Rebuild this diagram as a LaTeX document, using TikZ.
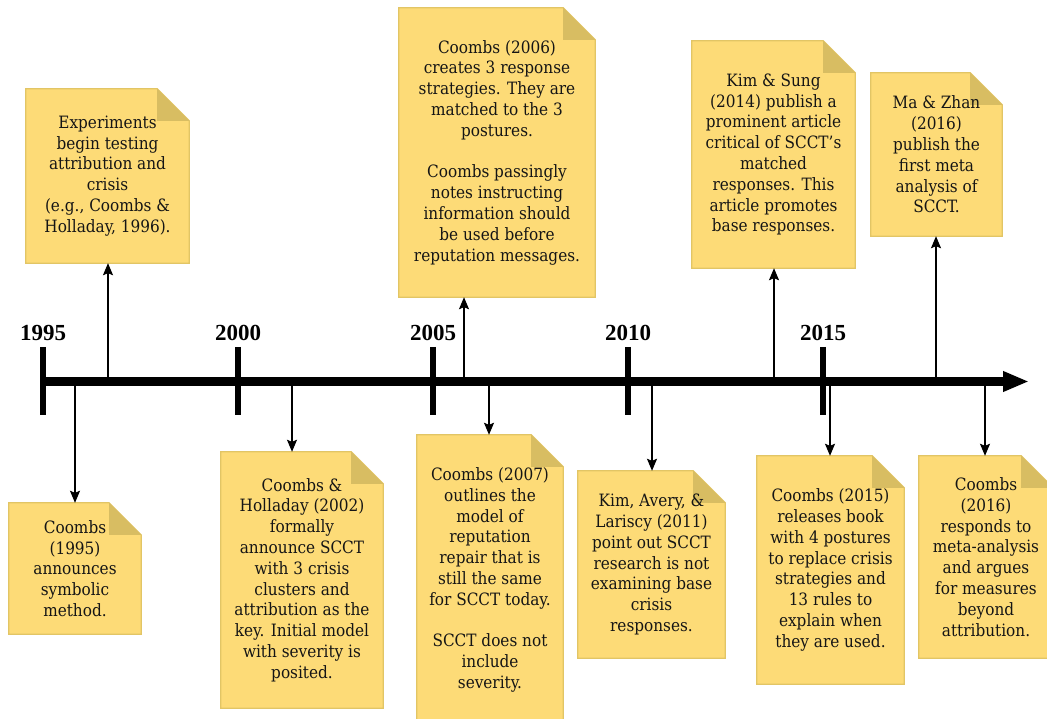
\documentclass[tikz,border=0pt]{standalone}
\usepackage{fontspec}
\setmainfont{DejaVu Serif Condensed}
\newfontfamily\yearfont{Liberation Serif}
\usetikzlibrary{arrows.meta,backgrounds}

\definecolor{notefill}{HTML}{FDDB77}
\definecolor{noteedge}{HTML}{E2C565}
\definecolor{notefold}{HTML}{D8BD62}
\definecolor{notetext}{HTML}{151515}

\tikzset{
  note/.style={rectangle, inner sep=0pt, align=center, text=notetext,
    font=\fontsize{17}{20.8}\selectfont},
  year/.style={anchor=base, font=\yearfont\bfseries\fontsize{23}{26}\selectfont},
  axisline/.style={line width=9.5pt, -{Triangle[length=26pt,width=19pt]}},
  tick/.style={line width=5.5pt},
  link/.style={line width=1.4pt, -{Stealth[length=12pt,width=10pt,inset=2pt]}},
}
\newcommand{\foldsize}{32pt}

\begin{document}
\begin{tikzpicture}[x=1pt,y=-1pt]
\useasboundingbox (0,0) rectangle (1047,719);
\clip (0,0) rectangle (1047,719);

% timeline axis and year ticks
\coordinate (start) at (43,381.5);
\coordinate (end) at (1029,381.5);
\foreach \i/\yr in {0/1995,1/2000,2/2005,3/2010,4/2015}{
  \coordinate (t\yr) at (43+195*\i,381.5);
  \draw[tick] (43+195*\i,347) -- (43+195*\i,415);
  \node[year] (y\yr) at (43+195*\i,341) {\yr};
}

% notes
\node[note, minimum width=163pt, minimum height=174pt] (n1) at (107.5,176)
  {Experiments\\begin testing\\attribution and\\crisis\\(e.g., Coombs \&\\Holladay, 1996).};
\node[note, minimum width=132pt, minimum height=131pt] (n2) at (75,568.5)
  {Coombs\\(1995)\\announces\\symbolic\\method.};
\node[note, minimum width=162pt, minimum height=256pt] (n3) at (302,580)
  {Coombs \&\\Holladay (2002)\\formally\\announce SCCT\\with 3 crisis\\clusters and\\attribution as the\\key. Initial model\\with severity is\\posited.};
\node[note, minimum width=196pt, minimum height=289pt] (n4) at (497,152.5)
  {Coombs (2006)\\creates 3 response\\strategies. They are\\matched to the 3\\postures.\\[20.8pt]Coombs passingly\\notes instructing\\information should\\be used before\\reputation messages.};
\node[note, minimum width=146pt, minimum height=290pt] (n5) at (490,580)
  {Coombs (2007)\\outlines the\\model of\\reputation\\repair that is\\still the same\\for SCCT today.\\[20.8pt]SCCT does not\\include\\severity.};
\node[note, minimum width=147pt, minimum height=187pt] (n6) at (651.5,564.5)
  {Kim, Avery, \&\\Lariscy (2011)\\point out SCCT\\research is not\\examining base\\crisis\\responses.};
\node[note, minimum width=163pt, minimum height=227pt] (n7) at (773.5,154.5)
  {Kim \& Sung\\(2014) publish a\\prominent article\\critical of SCCT's\\matched\\responses. This\\article promotes\\base responses.};
\node[note, minimum width=147pt, minimum height=228pt] (n8) at (830.5,570)
  {Coombs (2015)\\releases book\\with 4 postures\\to replace crisis\\strategies and\\13 rules to\\explain when\\they are used.};
\node[note, minimum width=131pt, minimum height=163pt] (n9) at (936.5,154.5)
  {Ma \& Zhan\\(2016)\\publish the\\first meta\\analysis of\\SCCT.};
\node[note, minimum width=134pt, minimum height=202pt] (n10) at (986,557)
  {Coombs\\(2016)\\responds to\\meta-analysis\\and argues\\for measures\\beyond\\attribution.};

% folded-corner paper behind each note
\begin{pgfonlayer}{background}
\foreach \n in {n1,n2,n3,n4,n5,n6,n7,n8,n9,n10}{
  \filldraw[fill=notefill, draw=noteedge, line width=1.2pt, line join=miter]
    (\n.north west) -- ([xshift=-\foldsize]\n.north east)
    -- ([yshift=-\foldsize]\n.north east) -- (\n.south east)
    -- (\n.south west) -- cycle;
  \fill[notefold] ([xshift=-\foldsize]\n.north east)
    -- ([xshift=-\foldsize,yshift=-\foldsize]\n.north east)
    -- ([yshift=-\foldsize]\n.north east) -- cycle;
}
\end{pgfonlayer}

% anchor points of the connectors on the axis
\coordinate (a1) at (108,381.5);
\coordinate (a2) at (75,381.5);
\coordinate (a3) at (292,381.5);
\coordinate (a4) at (464,381.5);
\coordinate (a5) at (489,381.5);
\coordinate (a6) at (652,381.5);
\coordinate (a7) at (774,381.5);
\coordinate (a8) at (830,381.5);
\coordinate (a9) at (936,381.5);
\coordinate (a10) at (985,381.5);

\draw[link] (a1) -- (a1 |- n1.south);
\draw[link] (a2) -- (a2 |- n2.north);
\draw[link] (a3) -- (a3 |- n3.north);
\draw[link] (a4) -- (a4 |- n4.south);
\draw[link] (a5) -- (a5 |- n5.north);
\draw[link] (a6) -- (a6 |- n6.north);
\draw[link] (a7) -- (a7 |- n7.south);
\draw[link] (a8) -- (a8 |- n8.north);
\draw[link] (a9) -- (a9 |- n9.south);
\draw[link] (a10) -- (a10 |- n10.north);

\draw[axisline] (start) -- (end);
\end{tikzpicture}
\end{document}
